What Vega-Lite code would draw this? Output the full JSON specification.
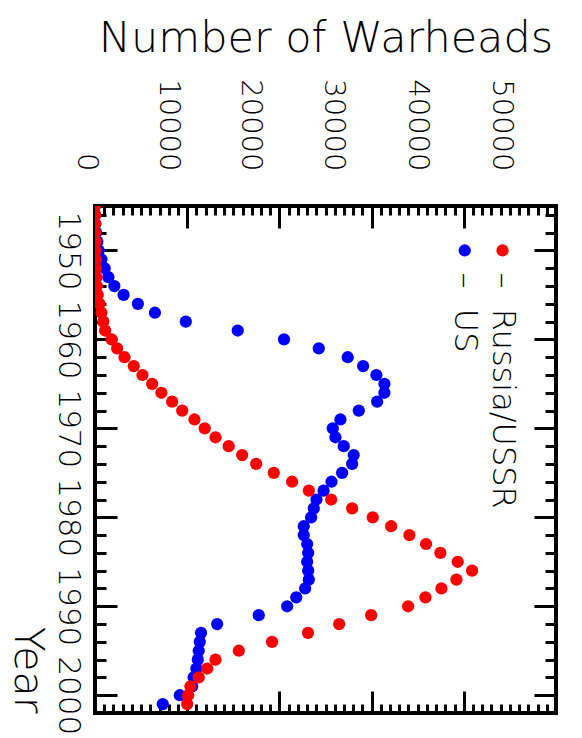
{
  "$schema": "https://vega.github.io/schema/vega-lite/v6.json",
  "width": 461,
  "height": 507,
  "autosize": {"type": "none"},
  "padding": {"left": 95, "top": 206, "right": 26, "bottom": 25},
  "background": "white",
  "config": {
    "view": {"stroke": "black", "strokeWidth": 4},
    "axis": {
      "grid": false,
      "domain": false,
      "tickColor": "black",
      "tickWidth": 3,
      "labelFont": "DejaVu Sans",
      "labelFontWeight": 200,
      "titleFont": "DejaVu Sans",
      "titleFontWeight": 200,
      "labelColor": "black",
      "titleColor": "black",
      "labelOverlap": false,
      "labelFlush": false,
      "labelBound": false
    }
  },
  "datasets": {
    "stockpile": [
      {"year": 1945, "country": "US", "warheads": 10},
      {"year": 1946, "country": "US", "warheads": 20},
      {"year": 1947, "country": "US", "warheads": 50},
      {"year": 1948, "country": "US", "warheads": 120},
      {"year": 1949, "country": "US", "warheads": 250},
      {"year": 1950, "country": "US", "warheads": 400},
      {"year": 1951, "country": "US", "warheads": 700},
      {"year": 1952, "country": "US", "warheads": 1050},
      {"year": 1953, "country": "US", "warheads": 1450},
      {"year": 1954, "country": "US", "warheads": 2100},
      {"year": 1955, "country": "US", "warheads": 3100},
      {"year": 1956, "country": "US", "warheads": 4650},
      {"year": 1957, "country": "US", "warheads": 6500},
      {"year": 1958, "country": "US", "warheads": 9850},
      {"year": 1959, "country": "US", "warheads": 15480},
      {"year": 1960, "country": "US", "warheads": 20500},
      {"year": 1961, "country": "US", "warheads": 24270},
      {"year": 1962, "country": "US", "warheads": 27410},
      {"year": 1963, "country": "US", "warheads": 29080},
      {"year": 1964, "country": "US", "warheads": 30520},
      {"year": 1965, "country": "US", "warheads": 31390},
      {"year": 1966, "country": "US", "warheads": 31390},
      {"year": 1967, "country": "US", "warheads": 30600},
      {"year": 1968, "country": "US", "warheads": 28610},
      {"year": 1969, "country": "US", "warheads": 26620},
      {"year": 1970, "country": "US", "warheads": 25790},
      {"year": 1971, "country": "US", "warheads": 26080},
      {"year": 1972, "country": "US", "warheads": 26980},
      {"year": 1973, "country": "US", "warheads": 28060},
      {"year": 1974, "country": "US", "warheads": 27890},
      {"year": 1975, "country": "US", "warheads": 26800},
      {"year": 1976, "country": "US", "warheads": 25650},
      {"year": 1977, "country": "US", "warheads": 24790},
      {"year": 1978, "country": "US", "warheads": 24020},
      {"year": 1979, "country": "US", "warheads": 23730},
      {"year": 1980, "country": "US", "warheads": 23440},
      {"year": 1981, "country": "US", "warheads": 22640},
      {"year": 1982, "country": "US", "warheads": 22640},
      {"year": 1983, "country": "US", "warheads": 23010},
      {"year": 1984, "country": "US", "warheads": 23120},
      {"year": 1985, "country": "US", "warheads": 23010},
      {"year": 1986, "country": "US", "warheads": 23120},
      {"year": 1987, "country": "US", "warheads": 23190},
      {"year": 1988, "country": "US", "warheads": 22790},
      {"year": 1989, "country": "US", "warheads": 21830},
      {"year": 1990, "country": "US", "warheads": 20840},
      {"year": 1991, "country": "US", "warheads": 17760},
      {"year": 1992, "country": "US", "warheads": 13250},
      {"year": 1993, "country": "US", "warheads": 11500},
      {"year": 1994, "country": "US", "warheads": 11360},
      {"year": 1995, "country": "US", "warheads": 11250},
      {"year": 1996, "country": "US", "warheads": 11150},
      {"year": 1997, "country": "US", "warheads": 11000},
      {"year": 1998, "country": "US", "warheads": 10700},
      {"year": 1999, "country": "US", "warheads": 10540},
      {"year": 2000, "country": "US", "warheads": 9200},
      {"year": 2001, "country": "US", "warheads": 7350},
      {"year": 1945, "country": "Russia/USSR", "warheads": 0},
      {"year": 1946, "country": "Russia/USSR", "warheads": 0},
      {"year": 1947, "country": "Russia/USSR", "warheads": 0},
      {"year": 1948, "country": "Russia/USSR", "warheads": 0},
      {"year": 1949, "country": "Russia/USSR", "warheads": 50},
      {"year": 1950, "country": "Russia/USSR", "warheads": 50},
      {"year": 1951, "country": "Russia/USSR", "warheads": 100},
      {"year": 1952, "country": "Russia/USSR", "warheads": 100},
      {"year": 1953, "country": "Russia/USSR", "warheads": 150},
      {"year": 1954, "country": "Russia/USSR", "warheads": 200},
      {"year": 1955, "country": "Russia/USSR", "warheads": 300},
      {"year": 1956, "country": "Russia/USSR", "warheads": 500},
      {"year": 1957, "country": "Russia/USSR", "warheads": 700},
      {"year": 1958, "country": "Russia/USSR", "warheads": 900},
      {"year": 1959, "country": "Russia/USSR", "warheads": 1100},
      {"year": 1960, "country": "Russia/USSR", "warheads": 1800},
      {"year": 1961, "country": "Russia/USSR", "warheads": 2400},
      {"year": 1962, "country": "Russia/USSR", "warheads": 3200},
      {"year": 1963, "country": "Russia/USSR", "warheads": 4200},
      {"year": 1964, "country": "Russia/USSR", "warheads": 5150},
      {"year": 1965, "country": "Russia/USSR", "warheads": 6200},
      {"year": 1966, "country": "Russia/USSR", "warheads": 7200},
      {"year": 1967, "country": "Russia/USSR", "warheads": 8370},
      {"year": 1968, "country": "Russia/USSR", "warheads": 9460},
      {"year": 1969, "country": "Russia/USSR", "warheads": 10790},
      {"year": 1970, "country": "Russia/USSR", "warheads": 11900},
      {"year": 1971, "country": "Russia/USSR", "warheads": 13070},
      {"year": 1972, "country": "Russia/USSR", "warheads": 14500},
      {"year": 1973, "country": "Russia/USSR", "warheads": 15960},
      {"year": 1974, "country": "Russia/USSR", "warheads": 17480},
      {"year": 1975, "country": "Russia/USSR", "warheads": 19390},
      {"year": 1976, "country": "Russia/USSR", "warheads": 21380},
      {"year": 1977, "country": "Russia/USSR", "warheads": 23190},
      {"year": 1978, "country": "Russia/USSR", "warheads": 25610},
      {"year": 1979, "country": "Russia/USSR", "warheads": 27890},
      {"year": 1980, "country": "Russia/USSR", "warheads": 30120},
      {"year": 1981, "country": "Russia/USSR", "warheads": 32120},
      {"year": 1982, "country": "Russia/USSR", "warheads": 34100},
      {"year": 1983, "country": "Russia/USSR", "warheads": 35910},
      {"year": 1984, "country": "Russia/USSR", "warheads": 37460},
      {"year": 1985, "country": "Russia/USSR", "warheads": 39340},
      {"year": 1986, "country": "Russia/USSR", "warheads": 40900},
      {"year": 1987, "country": "Russia/USSR", "warheads": 39200},
      {"year": 1988, "country": "Russia/USSR", "warheads": 37570},
      {"year": 1989, "country": "Russia/USSR", "warheads": 35840},
      {"year": 1990, "country": "Russia/USSR", "warheads": 33960},
      {"year": 1991, "country": "Russia/USSR", "warheads": 29950},
      {"year": 1992, "country": "Russia/USSR", "warheads": 26480},
      {"year": 1993, "country": "Russia/USSR", "warheads": 23100},
      {"year": 1994, "country": "Russia/USSR", "warheads": 19200},
      {"year": 1995, "country": "Russia/USSR", "warheads": 15600},
      {"year": 1996, "country": "Russia/USSR", "warheads": 13070},
      {"year": 1997, "country": "Russia/USSR", "warheads": 12170},
      {"year": 1998, "country": "Russia/USSR", "warheads": 11250},
      {"year": 1999, "country": "Russia/USSR", "warheads": 10350},
      {"year": 2000, "country": "Russia/USSR", "warheads": 10100},
      {"year": 2001, "country": "Russia/USSR", "warheads": 10000}
    ],
    "legend": [
      {"country": "Russia/USSR", "warheads": 44200, "year": 1950, "label": "–\u00a0 Russia/USSR"},
      {"country": "US", "warheads": 40100, "year": 1950, "label": "–\u00a0 US"}
    ]
  },
  "resolve": {"axis": {"x": "independent", "y": "independent"}},
  "layer": [
    {
      "data": {"name": "stockpile"},
      "transform": [{"filter": "datum.country == 'US'"}],
      "mark": {"type": "point", "filled": true, "opacity": 1, "size": 150, "clip": true},
      "encoding": {
        "x": {
          "field": "warheads", "type": "quantitative",
          "scale": {"domain": [0, 50000], "nice": false, "zero": false},
          "axis": {
            "orient": "top",
            "values": [0, 10000, 20000, 30000, 40000, 50000],
            "format": "d",
            "tickSize": -22,
            "labelAngle": 90,
            "labelAlign": "right",
            "labelBaseline": "middle",
            "labelFontSize": 29,
            "labelPadding": 57,
            "labelOffset": {
              "condition": [
                {"test": "datum.value < 5000", "value": -9},
                {"test": "datum.value < 15000", "value": -19},
                {"test": "datum.value < 25000", "value": -29},
                {"test": "datum.value < 35000", "value": -38},
                {"test": "datum.value < 45000", "value": -46}
              ],
              "value": -55
            },
            "title": "Number of Warheads",
            "titleFontSize": 43,
            "titlePadding": 18
          }
        },
        "y": {
          "field": "year", "type": "quantitative",
          "scale": {"domain": [2002, 1945], "nice": false, "zero": false},
          "axis": {
            "orient": "left",
            "values": [1950, 1960, 1970, 1980, 1990, 2000],
            "format": "d",
            "tickSize": -22,
            "labelAngle": 90,
            "labelAlign": "center",
            "labelBaseline": "top",
            "labelFontSize": 31,
            "labelPadding": 35,
            "title": "Year",
            "titleAngle": 90,
            "titleFontSize": 41,
            "titleAnchor": "start",
            "titleAlign": "right",
            "titleBaseline": "top",
            "titlePadding": 6
          }
        },
        "color": {
          "field": "country", "type": "nominal",
          "scale": {"domain": ["US", "Russia/USSR"], "range": ["#0000ff", "#ff0000"]},
          "legend": null
        }
      }
    },
    {
      "data": {"name": "stockpile"},
      "transform": [{"filter": "datum.country == 'Russia/USSR'"}],
      "mark": {"type": "point", "filled": true, "opacity": 1, "size": 150, "clip": true},
      "encoding": {
        "x": {
          "field": "warheads", "type": "quantitative",
          "scale": {"domain": [0, 50000], "nice": false, "zero": false},
          "axis": {
            "orient": "top",
            "values": [1000,2000,3000,4000,5000,6000,7000,8000,9000,11000,12000,13000,14000,15000,16000,17000,18000,19000,21000,22000,23000,24000,25000,26000,27000,28000,29000,31000,32000,33000,34000,35000,36000,37000,38000,39000,41000,42000,43000,44000,45000,46000,47000,48000,49000],
            "tickSize": -9,
            "labels": false,
            "title": null
          }
        },
        "y": {
          "field": "year", "type": "quantitative",
          "scale": {"domain": [2002, 1945], "nice": false, "zero": false},
          "axis": {
            "orient": "left",
            "values": [1946,1948,1952,1954,1956,1958,1962,1964,1966,1968,1972,1974,1976,1978,1982,1984,1986,1988,1992,1994,1996,1998],
            "tickSize": -11,
            "labels": false,
            "title": null
          }
        },
        "color": {
          "field": "country", "type": "nominal",
          "scale": {"domain": ["US", "Russia/USSR"], "range": ["#0000ff", "#ff0000"]},
          "legend": null
        }
      }
    },
    {
      "data": {"name": "legend"},
      "mark": {"type": "point", "filled": true, "opacity": 1, "size": 150},
      "encoding": {
        "x": {
          "field": "warheads", "type": "quantitative",
          "scale": {"domain": [0, 50000], "nice": false, "zero": false},
          "axis": {
            "orient": "bottom",
            "values": [0, 10000, 20000, 30000, 40000, 50000],
            "tickSize": -22,
            "labels": false,
            "title": null
          }
        },
        "y": {
          "field": "year", "type": "quantitative",
          "scale": {"domain": [2002, 1945], "nice": false, "zero": false},
          "axis": {
            "orient": "right",
            "values": [1950, 1960, 1970, 1980, 1990, 2000],
            "tickSize": -22,
            "labels": false,
            "title": null
          }
        },
        "color": {
          "field": "country", "type": "nominal",
          "scale": {"domain": ["US", "Russia/USSR"], "range": ["#0000ff", "#ff0000"]},
          "legend": null
        }
      }
    },
    {
      "data": {"name": "legend"},
      "mark": {"type": "text", "angle": 90, "align": "left", "baseline": "middle", "dx": 22, "fontSize": 32, "font": "DejaVu Sans", "fontWeight": 200, "color": "black"},
      "encoding": {
        "x": {
          "field": "warheads", "type": "quantitative",
          "scale": {"domain": [0, 50000], "nice": false, "zero": false},
          "axis": {
            "orient": "bottom",
            "values": [1000,2000,3000,4000,5000,6000,7000,8000,9000,11000,12000,13000,14000,15000,16000,17000,18000,19000,21000,22000,23000,24000,25000,26000,27000,28000,29000,31000,32000,33000,34000,35000,36000,37000,38000,39000,41000,42000,43000,44000,45000,46000,47000,48000,49000],
            "tickSize": -9,
            "labels": false,
            "title": null
          }
        },
        "y": {
          "field": "year", "type": "quantitative",
          "scale": {"domain": [2002, 1945], "nice": false, "zero": false},
          "axis": {
            "orient": "right",
            "values": [1946,1948,1952,1954,1956,1958,1962,1964,1966,1968,1972,1974,1976,1978,1982,1984,1986,1988,1992,1994,1996,1998],
            "tickSize": -11,
            "labels": false,
            "title": null
          }
        },
        "text": {"field": "label"}
      }
    }
  ]
}
